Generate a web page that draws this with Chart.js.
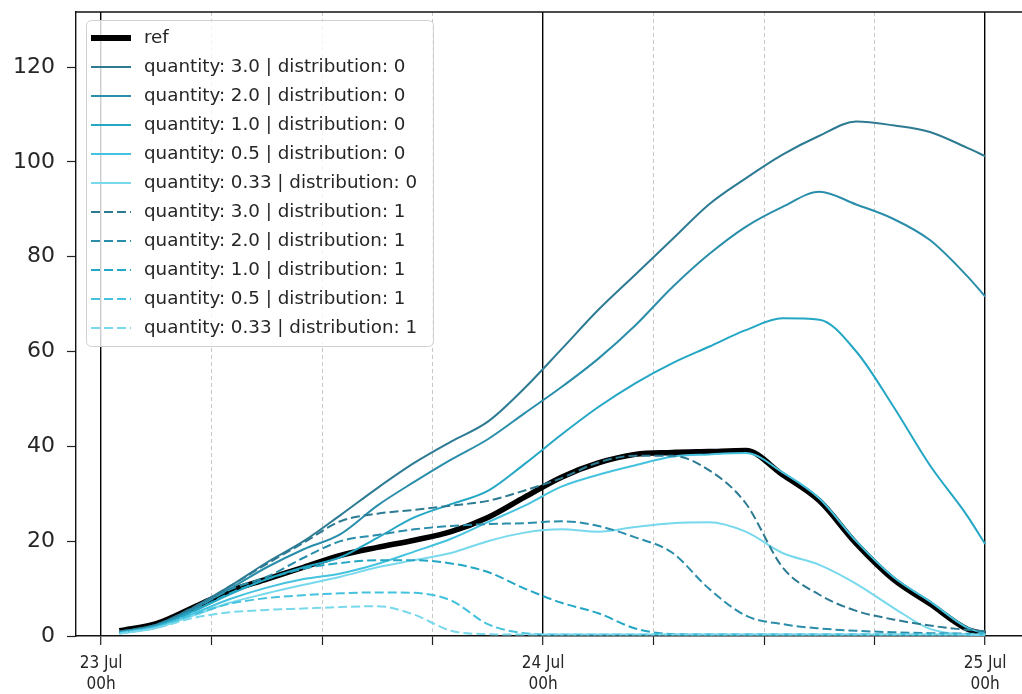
<!DOCTYPE html>
<html>
<head>
<meta charset="utf-8">
<script src="https://cdn.jsdelivr.net/npm/chart.js@4.4.0/dist/chart.umd.min.js"></script>
<style>
  html, body { margin: 0; padding: 0; background: #fff; overflow: hidden; }
  #wrap { position: absolute; left: 0; top: 0; width: 1060px; height: 694px; }
</style>
</head>
<body>
<div id="wrap"><canvas id="chart" width="1060" height="694"></canvas></div>
<script>
// Sample times, in hours after 23 Jul 00h
const hours = [1, 3, 5, 7, 9, 11, 13, 15, 17, 19, 21, 23, 25, 27, 29, 31, 33, 35, 37, 39, 41, 43, 45, 47, 48];

// Reference run
const refValues = [1.1, 2.6, 6, 9.5, 12, 14.5, 17, 18.7, 20.2, 22, 25, 29.3, 33.5, 36.5, 38.3, 38.7, 38.9, 39.1, 34, 28.5, 19.5, 12, 6.8, 1.5, 0.4];

// distribution 0
const q30d0 = [0.9, 2.4, 6, 10.5, 15.5, 20, 25.5, 31.2, 36.5, 41, 45.2, 52.3, 60.5, 68.8, 76.2, 83.6, 91, 96.5, 101.5, 105.5, 108.5, 107.7, 106.3, 103, 101.2];
const q20d0 = [0.8, 2.3, 5.7, 10, 14.5, 18.3, 21.5, 27.5, 32.5, 37.2, 41.5, 47, 52.5, 58.5, 65.5, 73.5, 80.5, 86.3, 90.5, 93.7, 91, 88, 83.5, 76, 71.6];
const q10d0 = [0.7, 2.1, 5.2, 8.8, 12, 14.5, 16.6, 20.7, 25, 27.8, 30.6, 36.3, 42.5, 48.3, 53.3, 57.5, 61, 64.5, 67, 66.7, 60, 48.5, 36, 25.5, 19.4];
const q05d0 = [0.6, 1.9, 4.7, 7.8, 10.2, 12, 13.2, 15.2, 17.8, 20.5, 24, 27.5, 31.5, 34, 36, 37.8, 38.3, 38.6, 34.5, 29, 20, 12.5, 7.3, 1.8, 0.5];
const q033d0 = [0.5, 1.7, 4.3, 7, 9, 10.8, 12.5, 14.5, 16, 17.5, 20, 21.8, 22.5, 22, 23, 23.8, 24, 22, 17.5, 15, 11, 6, 1.5, 0.3, 0.2];

// distribution 1
const q30d1 = [0.9, 2.4, 6, 10.5, 15.2, 19.7, 24.2, 25.8, 26.6, 27.5, 28.5, 30.7, 33.3, 36.6, 38, 38, 35, 28, 14.5, 8.7, 5.3, 3.5, 2.2, 1.3, 1];
const q20d1 = [0.8, 2.3, 5.6, 9.8, 12.5, 16.5, 20, 21.3, 22.5, 23.2, 23.6, 23.8, 24.2, 23.2, 20.8, 17.6, 10, 4.3, 2.5, 1.6, 1.1, 0.8, 0.6, 0.5, 0.5];
const q10d1 = [0.7, 2.1, 5.2, 9, 12, 14.2, 15.4, 16, 16, 15.3, 13.5, 10, 7, 4.8, 1.6, 0.4, 0.3, 0.3, 0.3, 0.3, 0.3, 0.3, 0.3, 0.3, 0.3];
const q05d1 = [0.6, 1.9, 4.5, 6.8, 8, 8.6, 9, 9.2, 9.1, 7.5, 2.5, 0.6, 0.3, 0.3, 0.3, 0.3, 0.3, 0.3, 0.3, 0.3, 0.3, 0.3, 0.3, 0.3, 0.3];
const q033d1 = [0.5, 1.7, 3.8, 5, 5.5, 5.8, 6.1, 6.3, 4.5, 1.1, 0.4, 0.3, 0.3, 0.3, 0.3, 0.3, 0.3, 0.3, 0.3, 0.3, 0.3, 0.3, 0.3, 0.3, 0.3];

const seriesLabels = [
  'ref',
  'quantity: 3.0 | distribution: 0',
  'quantity: 2.0 | distribution: 0',
  'quantity: 1.0 | distribution: 0',
  'quantity: 0.5 | distribution: 0',
  'quantity: 0.33 | distribution: 0',
  'quantity: 3.0 | distribution: 1',
  'quantity: 2.0 | distribution: 1',
  'quantity: 1.0 | distribution: 1',
  'quantity: 0.5 | distribution: 1',
  'quantity: 0.33 | distribution: 1'
];
const seriesValues = [refValues, q30d0, q20d0, q10d0, q05d0, q033d0, q30d1, q20d1, q10d1, q05d1, q033d1];

// Axis ticks
const yTicks = [0, 20, 40, 60, 80, 100, 120];
const gridHours = [0, 6, 12, 18, 24, 30, 36, 42, 48];
const dayTickHours = [0, 24, 48];
const dayTickLabels = [['23 Jul', '00h'], ['24 Jul', '00h'], ['25 Jul', '00h']];

// Styling
const quantityColors = ['#2d7b93', '#2a8eab', '#24a7c5', '#45c3de', '#78d8ec'];
const X_MIN = -1.36, X_MAX = 51.52, Y_MAX = 131.6;

const datasets = seriesValues.map((vals, i) => {
  const isRef = i === 0;
  const color = isRef ? '#000000' : quantityColors[(i - 1) % 5];
  return {
    label: seriesLabels[i],
    data: hours.map((h, k) => ({ x: h, y: vals[k] })),
    borderColor: color,
    backgroundColor: color,
    borderWidth: isRef ? 5.5 : 2,
    borderDash: i >= 6 ? [9, 4] : [],
    pointRadius: 0,
    fill: false,
    cubicInterpolationMode: 'monotone',
    order: seriesValues.length - i
  };
});

// Frame line along the top of the plot area
const topFrame = {
  id: 'topFrame',
  afterDraw(chart) {
    const { ctx, chartArea } = chart;
    ctx.save();
    ctx.strokeStyle = '#111';
    ctx.lineWidth = 1.4;
    ctx.beginPath();
    ctx.moveTo(chartArea.left, chartArea.top);
    ctx.lineTo(chartArea.right, chartArea.top);
    ctx.stroke();
    ctx.restore();
  }
};

// Boxed legend inside the plot area, upper left
const boxLegend = {
  id: 'boxLegend',
  afterDraw(chart) {
    const { ctx } = chart;
    const x0 = 86, y0 = 20, w = 347, h = 326, r = 5;
    ctx.save();
    ctx.beginPath();
    ctx.roundRect(x0 + 0.5, y0 + 0.5, w, h, r);
    ctx.fillStyle = 'rgba(255,255,255,0.8)';
    ctx.fill();
    ctx.strokeStyle = '#d0d0d0';
    ctx.lineWidth = 1;
    ctx.stroke();
    ctx.font = '18.3px "DejaVu Sans", sans-serif';
    ctx.textBaseline = 'middle';
    ctx.fillStyle = '#262626';
    chart.data.datasets.forEach((ds, i) => {
      const yy = 38 + 29 * i;
      ctx.beginPath();
      ctx.setLineDash(ds.borderDash);
      ctx.lineWidth = i === 0 ? 6 : ds.borderWidth;
      ctx.strokeStyle = ds.borderColor;
      ctx.moveTo(91, yy);
      ctx.lineTo(131, yy);
      ctx.stroke();
      ctx.setLineDash([]);
      ctx.fillText(ds.label, 144, yy);
    });
    ctx.restore();
  }
};

const isDay = v => dayTickHours.includes(v);

new Chart(document.getElementById('chart'), {
  type: 'line',
  data: { datasets },
  options: {
    responsive: false,
    animation: false,
    layout: { padding: { top: 12, right: 10, left: 0, bottom: 0 } },
    plugins: { legend: { display: false }, tooltip: { enabled: false }, title: { display: false } },
    scales: {
      x: {
        type: 'linear',
        min: X_MIN,
        max: X_MAX,
        afterBuildTicks: axis => { axis.ticks = gridHours.map(v => ({ value: v })); },
        afterFit: axis => { axis.height = 58; axis.paddingLeft = 0; axis.paddingRight = 0; },
        grid: {
          color: ctx => isDay(ctx.tick && ctx.tick.value) ? '#000000' : '#c2c2c2',
          lineWidth: ctx => isDay(ctx.tick && ctx.tick.value) ? 1.4 : 0.9,
          tickLength: 9,
          tickColor: '#222',
          tickWidth: 1.2
        },
        border: {
          display: true,
          color: '#111',
          width: 1.4,
          dash: ctx => isDay(ctx.tick && ctx.tick.value) ? [] : [4, 3]
        },
        ticks: {
          autoSkip: false,
          maxRotation: 0,
          padding: 8,
          color: '#262626',
          font: { family: '"DejaVu Sans Condensed", "Liberation Sans Narrow", "DejaVu Sans"', size: 17, lineHeight: 1.22 },
          callback: value => {
            const k = dayTickHours.indexOf(value);
            return k >= 0 ? dayTickLabels[k] : '';
          }
        }
      },
      y: {
        min: 0,
        max: Y_MAX,
        afterBuildTicks: axis => { axis.ticks = yTicks.map(v => ({ value: v })); },
        afterFit: axis => { axis.width = 76; axis.paddingTop = 0; axis.paddingBottom = 0; },
        grid: { drawOnChartArea: false, tickLength: 9, tickColor: '#222', tickWidth: 1.2 },
        border: { display: true, color: '#111', width: 1.4 },
        ticks: {
          padding: 12,
          color: '#262626',
          font: { family: '"DejaVu Sans"', size: 22 }
        }
      }
    }
  },
  plugins: [topFrame, boxLegend]
});
</script>
</body>
</html>
